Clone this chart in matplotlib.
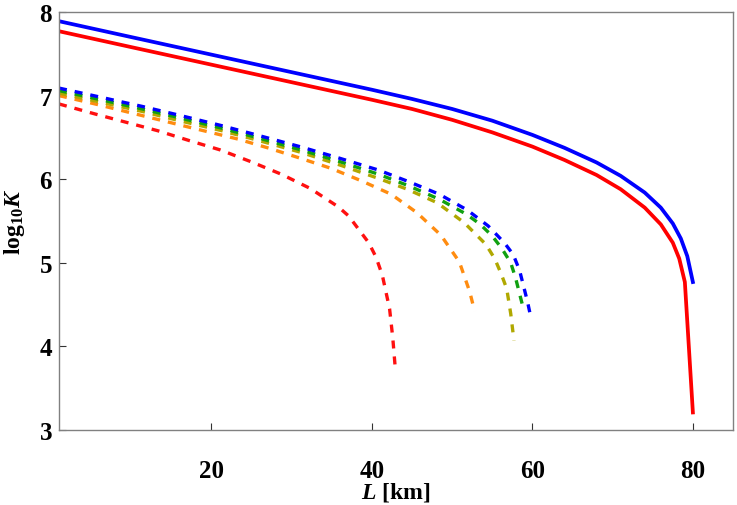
import matplotlib
matplotlib.use("Agg")
import matplotlib.pyplot as plt

# ---- data ----
L_solid_blue = [1, 10, 20, 30, 40, 45, 50, 55, 60, 64, 68, 71, 74, 76, 77.5, 78.5, 79.3, 80]
K_solid_blue = [7.89, 7.70, 7.49, 7.28, 7.07, 6.96, 6.84, 6.70, 6.53, 6.375, 6.20, 6.04, 5.84, 5.66,
                5.47, 5.29, 5.08, 4.77]

L_solid_red = [1, 10, 20, 30, 40, 45, 50, 55, 60, 64, 68, 71, 74, 76, 77.5, 78.3, 79, 80]
K_solid_red = [7.77, 7.58, 7.37, 7.16, 6.95, 6.84, 6.71, 6.56, 6.39, 6.23, 6.05, 5.88, 5.66, 5.46,
               5.24, 5.05, 4.77, 3.21]

L_dash_blue = [1, 6, 11.4, 16, 21.3, 26, 31.2, 36, 40.8, 44.6, 48.4, 51.9, 54.5, 56.5, 57.6, 58.4,
               58.9, 59.4, 59.8]
K_dash_blue = [7.09, 6.985, 6.87, 6.765, 6.64, 6.52, 6.385, 6.25, 6.11, 5.97, 5.82, 5.63, 5.44, 5.24,
               5.10, 4.91, 4.72, 4.53, 4.35]

L_dash_green = [1, 6, 11.4, 16, 21.3, 26, 31.2, 36, 40.8, 44.6, 48.4, 51.8, 53.5, 55.0, 56.2, 57.3,
                57.9, 58.4, 58.8]
K_dash_green = [7.06, 6.955, 6.84, 6.735, 6.61, 6.49, 6.35, 6.21, 6.06, 5.92, 5.76, 5.58, 5.46, 5.32,
                5.17, 5.00, 4.82, 4.63, 4.48]

L_dash_olive = [1, 6, 11.4, 16, 21.3, 26, 31.2, 36, 40.8, 44.4, 48.1, 51.5, 54.2, 55.3, 56.1, 56.8,
                57.3, 57.7]
K_dash_olive = [7.03, 6.925, 6.81, 6.70, 6.58, 6.46, 6.32, 6.17, 6.01, 5.88, 5.72, 5.48, 5.22, 5.05,
                4.87, 4.69, 4.39, 4.07]

L_dash_orange = [1, 5.5, 11.4, 17.3, 23.3, 27.2, 31.1, 34.9, 38.7, 42.4, 45.6, 48.6, 50.9, 52.2, 52.8]
K_dash_orange = [7.00, 6.90, 6.76, 6.62, 6.48, 6.37, 6.25, 6.13, 5.98, 5.82, 5.60, 5.33, 5.01, 4.65, 4.42]

L_dash_red = [1, 5.5, 9.4, 13.3, 17.3, 21.1, 24.9, 28.7, 32.3, 35.8, 37.1, 39.6, 40.5, 41.3, 42.2,
              42.6, 42.9]
K_dash_red = [6.90, 6.78, 6.68, 6.58, 6.46, 6.35, 6.21, 6.06, 5.89, 5.67, 5.56, 5.24, 5.07, 4.85,
              4.45, 4.10, 3.75]

x_ticks = [20, 40, 60, 80]
y_ticks = [3, 4, 5, 6, 7, 8]

# ---- style ----
plt.rcParams["font.family"] = "Liberation Serif"
plt.rcParams["font.weight"] = "bold"
plt.rcParams["mathtext.fontset"] = "custom"
plt.rcParams["mathtext.rm"] = "Liberation Serif:bold"
plt.rcParams["mathtext.bf"] = "Liberation Serif:bold"
plt.rcParams["mathtext.it"] = "Liberation Serif:bold:italic"

fig = plt.figure(figsize=(7.37, 5.06), dpi=100)
ax = fig.add_axes([59 / 737, 1 - 431 / 506, 674 / 737, 418 / 506])

dash = (2.4, 2.4)
lw_d = 2.4
ax.plot(L_dash_red, K_dash_red, color="#ff1010", lw=lw_d, dashes=dash)
ax.plot(L_dash_orange, K_dash_orange, color="#ff8c10", lw=lw_d, dashes=dash)
ax.plot(L_dash_olive, K_dash_olive, color="#b0a800", lw=lw_d, dashes=dash)
ax.plot(L_dash_green, K_dash_green, color="#10a010", lw=lw_d, dashes=dash)
ax.plot(L_dash_blue, K_dash_blue, color="#0000ff", lw=lw_d, dashes=dash)
ax.plot(L_solid_red, K_solid_red, color="#ff0000", lw=2.7)
ax.plot(L_solid_blue, K_solid_blue, color="#0000ff", lw=2.7)

ax.set_xlim(1, 85)
ax.set_ylim(3, 8)
ax.set_xticks(x_ticks)
ax.set_yticks(y_ticks)
ax.minorticks_off()
ax.tick_params(direction="in", length=5, width=0.8, color="#333333", labelsize=18)
ax.tick_params(axis="x", pad=21)
ax.tick_params(axis="y", pad=5)
for s in ax.spines.values():
    s.set_color("#808080")
    s.set_linewidth(1.0)

ax.set_xlabel(r"$L$ [km]", fontsize=17, fontweight="bold")
ax.set_ylabel(r"$\mathrm{log}_{10}K$", fontsize=17)
ax.xaxis.label.set_va("center")
ax.xaxis.set_label_coords(0.5, -0.148)
ax.yaxis.label.set_va("center")
ax.yaxis.set_label_coords(-0.066, 0.5)

fig.savefig("out.png", dpi=100)
